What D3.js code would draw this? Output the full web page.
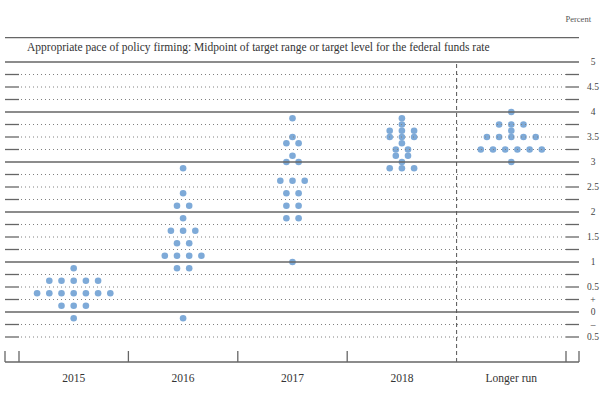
<!DOCTYPE html>
<html>
<head>
<meta charset="utf-8">
<script src="https://cdn.jsdelivr.net/npm/d3@7"></script>
<style>
  body { margin: 0; background: #fff; }
  svg text { font-family: "Liberation Serif", "Times New Roman", "DejaVu Serif", serif; }
  .grid-solid { stroke: #666; stroke-width: 1.3; }
  .grid-dot { stroke: #808080; stroke-width: 1; stroke-dasharray: 1 3; }
  .axis-line { stroke: #666; stroke-width: 1.3; fill: none; }
  .ylab { fill: #444; font-size: 9.5px; }
  .xlab { fill: #333; font-size: 11.5px; }
</style>
</head>
<body>
<svg width="611" height="394"></svg>
<script>
// Categories and dot counts: [midpoint value, number of participants]
const categories = ["2015", "2016", "2017", "2018", "Longer run"];
const dots2015 = [[0.875, 1], [0.625, 5], [0.375, 7], [0.125, 3], [-0.125, 1]];
const dots2016 = [[2.875, 1], [2.375, 1], [2.125, 2], [1.875, 1], [1.625, 3], [1.375, 2], [1.125, 4], [0.875, 2], [-0.125, 1]];
const dots2017 = [[3.875, 1], [3.5, 1], [3.375, 2], [3.125, 1], [3.0, 2], [2.625, 3], [2.375, 2], [2.125, 2], [1.875, 2], [1.0, 1]];
const dots2018 = [[3.875, 1], [3.75, 1], [3.625, 3], [3.5, 3], [3.375, 1], [3.25, 2], [3.125, 2], [3.0, 1], [2.875, 3]];
const dotsLonger = [[4.0, 1], [3.75, 3], [3.625, 1], [3.5, 5], [3.25, 6], [3.0, 1]];
const allDots = [dots2015, dots2016, dots2017, dots2018, dotsLonger];

const yTicks = [5, 4.5, 4, 3.5, 3, 2.5, 2, 1.5, 1, 0.5, 0.25, 0, -0.25, -0.5];
const yTickLabels = ["5", "4.5", "4", "3.5", "3", "2.5", "2", "1.5", "1", "0.5", "+", "0", "\u2013", "0.5"];

const svg = d3.select("svg");

const x = d3.scaleBand().domain(categories).range([19, 566]).padding(0);
const y = d3.scaleLinear().domain([-0.5, 5]).range([337, 62]);
const left = 5, right = 579, axisY = 362;
const dotStep = 12.2;

// header
svg.append("text")
    .attr("x", 591).attr("y", 22)
    .attr("text-anchor", "end")
    .attr("font-size", 8.5)
    .attr("fill", "#555")
    .text("Percent");

svg.append("line").attr("class", "grid-solid")
    .attr("x1", left).attr("x2", right)
    .attr("y1", 37.7).attr("y2", 37.7);

svg.append("text")
    .attr("x", 27).attr("y", 51)
    .attr("font-size", 11.5)
    .attr("fill", "#333")
    .text("Appropriate pace of policy firming: Midpoint of target range or target level for the federal funds rate");

// dots
const dotData = [];
allDots.forEach((rows, i) => {
    rows.forEach(([v, n]) => {
        for (let k = 0; k < n; k++) {
            dotData.push({ cat: categories[i], value: v, off: k - (n - 1) / 2 });
        }
    });
});

svg.append("g")
    .selectAll("circle")
    .data(dotData)
    .join("circle")
    .attr("cx", d => x(d.cat) + x.bandwidth() / 2 + d.off * dotStep)
    .attr("cy", d => y(d.value))
    .attr("r", 3.3)
    .attr("fill", "#7eaad8");

// grid lines every 0.25
const gridVals = d3.range(-0.5, 5.0001, 0.25);
const grid = svg.append("g");
gridVals.forEach(v => {
    const yy = y(v);
    if (Math.abs(v - Math.round(v)) < 1e-6) {
        grid.append("line").attr("class", "grid-solid")
            .attr("x1", left).attr("x2", right).attr("y1", yy).attr("y2", yy);
    } else {
        grid.append("line").attr("class", "grid-solid")
            .attr("x1", left).attr("x2", x.range()[0]).attr("y1", yy).attr("y2", yy);
        grid.append("line").attr("class", "grid-solid")
            .attr("x1", x.range()[1]).attr("x2", right).attr("y1", yy).attr("y2", yy);
        grid.append("line").attr("class", "grid-dot")
            .attr("x1", x.range()[0] + 2).attr("x2", x.range()[1]).attr("y1", yy).attr("y2", yy);
    }
});

// right labels
svg.append("g")
    .selectAll("text")
    .data(yTicks)
    .join("text")
    .attr("class", "ylab")
    .attr("x", 593)
    .attr("y", d => y(d) + 3)
    .attr("text-anchor", "middle")
    .text((d, i) => yTickLabels[i]);

// dashed separator before longer run
const sepX = x("Longer run");
svg.append("line")
    .attr("x1", sepX).attr("x2", sepX)
    .attr("y1", y(5) + 2).attr("y2", axisY)
    .attr("stroke", "#555").attr("stroke-width", 1)
    .attr("stroke-dasharray", "4 3");

// bottom axis
svg.append("line").attr("class", "axis-line")
    .attr("x1", left).attr("x2", right).attr("y1", axisY).attr("y2", axisY);

const tickXs = [left, right, x.range()[0], x.range()[1]]
    .concat(categories.slice(1, 4).map(c => x(c)));
svg.append("g")
    .selectAll("line")
    .data(tickXs)
    .join("line")
    .attr("class", "axis-line")
    .attr("x1", d => d).attr("x2", d => d)
    .attr("y1", axisY - 11).attr("y2", axisY);

svg.append("g")
    .selectAll("text")
    .data(categories)
    .join("text")
    .attr("class", "xlab")
    .attr("x", d => x(d) + x.bandwidth() / 2)
    .attr("y", 382)
    .attr("text-anchor", "middle")
    .text(d => d);
</script>
</body>
</html>
